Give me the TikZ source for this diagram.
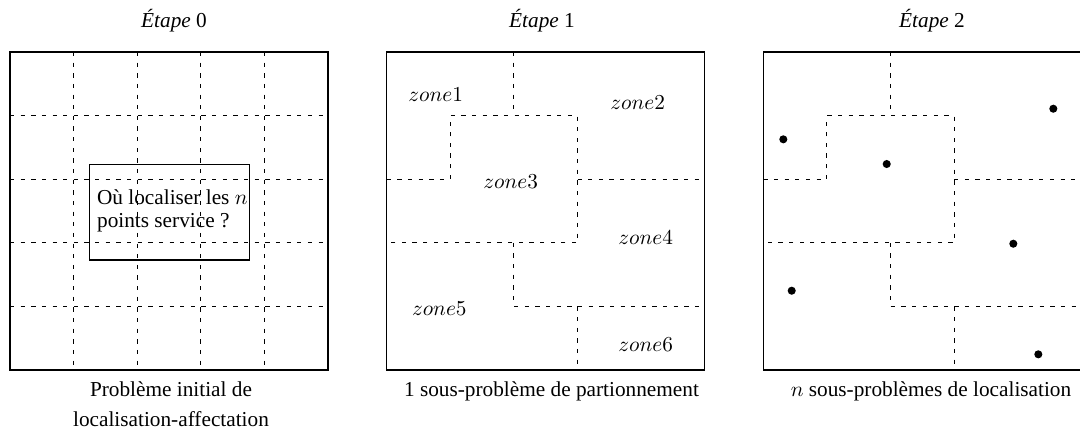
\documentclass[tikz,border=0pt]{standalone}
\usepackage[no-math]{fontspec}
\setmainfont{Liberation Serif}
\begin{document}
\begin{tikzpicture}[x=0.47pt,y=-0.47pt,
  frame/.style={line width=0.5pt},
  part/.style={line width=0.4pt, dash pattern=on 2pt off 3pt},
  lbl/.style={anchor=base, inner sep=0pt, font=\fontsize{10}{12}\selectfont},
  caption/.style={anchor=base, inner sep=0pt, align=center, font=\fontsize{10}{13.8}\selectfont},
  zonelbl/.style={anchor=base west, inner sep=0pt, font=\fontsize{10}{12}\selectfont},
  site/.style={circle, fill=black, inner sep=0pt, minimum size=3.8pt}]
\useasboundingbox (0,0) rectangle (1080,430);

% ---------- Etape 0 ----------
\begin{scope}[shift={(10,52)}, xscale=63.6, yscale=63.6]
  \foreach \k in {1,...,4} {
    \draw[part] (\k,0) -- (\k,5);
    \draw[part] (0,\k) -- (5,\k);
  }
  \draw[frame] (0,0) rectangle (5,5);
\end{scope}
\node[draw, frame, inner sep=0pt, minimum width=75.3pt, minimum height=45.1pt] (q) at (169.15,212) {};
\node[anchor=base west, inner sep=0pt, align=left, font=\fontsize{10}{10.4}\selectfont] (qt) at (96.7,227) {Où localiser les $n$\\points service ?};
\node[lbl] (t0) at (174,27.7) {\textit{Étape} 0};
\node[caption] (c0) at (171,426) {Problème initial de\\localisation-affectation};

% ---------- Etape 1 ----------
\begin{scope}[shift={(386.7,52)}, xscale=63.6, yscale=63.6]
  \draw[part] (0,2) -- (1,2) -- (1,1) -- (3,1) -- (3,3) -- (0,3);
  \draw[part] (2,0) -- (2,1);
  \draw[part] (3,2) -- (5,2);
  \draw[part] (2,3) -- (2,4) -- (5,4);
  \draw[part] (3,4) -- (3,5);
  \draw[frame] (0,0) rectangle (5,5);
\end{scope}
\node[lbl] (t1) at (542,27.7) {\textit{Étape} 1};
\node[zonelbl] (z1) at (408,101.7) {$zone1$};
\node[zonelbl] (z2) at (610,109) {$zone2$};
\node[zonelbl] (z3) at (483,188.3) {$zone3$};
\node[zonelbl] (z4) at (618,244.3) {$zone4$};
\node[zonelbl] (z5) at (411.7,315) {$zone5$};
\node[zonelbl] (z6) at (618,351) {$zone6$};
\node[caption] (c1) at (551.5,396.7) {1 sous-problème de partionnement};

% ---------- Etape 2 ----------
\begin{scope}[shift={(763.3,52)}, xscale=63.6, yscale=63.6]
  \draw[part] (0,2) -- (1,2) -- (1,1) -- (3,1) -- (3,3) -- (0,3);
  \draw[part] (2,0) -- (2,1);
  \draw[part] (3,2) -- (5,2);
  \draw[part] (2,3) -- (2,4) -- (5,4);
  \draw[part] (3,4) -- (3,5);
  \draw[frame] (0,0) rectangle (5,5);
\end{scope}
\node[lbl] (t2) at (932,27.7) {\textit{Étape} 2};
\node[site] (s1) at (783.3,139.3) {};
\node[site] (s2) at (886.7,164) {};
\node[site] (s3) at (1053.3,108.7) {};
\node[site] (s4) at (1013.3,243.7) {};
\node[site] (s5) at (791.7,290.7) {};
\node[site] (s6) at (1038.3,354.3) {};
\node[caption] (c2) at (931,396.7) {$n$ sous-problèmes de localisation};
\end{tikzpicture}
\end{document}
